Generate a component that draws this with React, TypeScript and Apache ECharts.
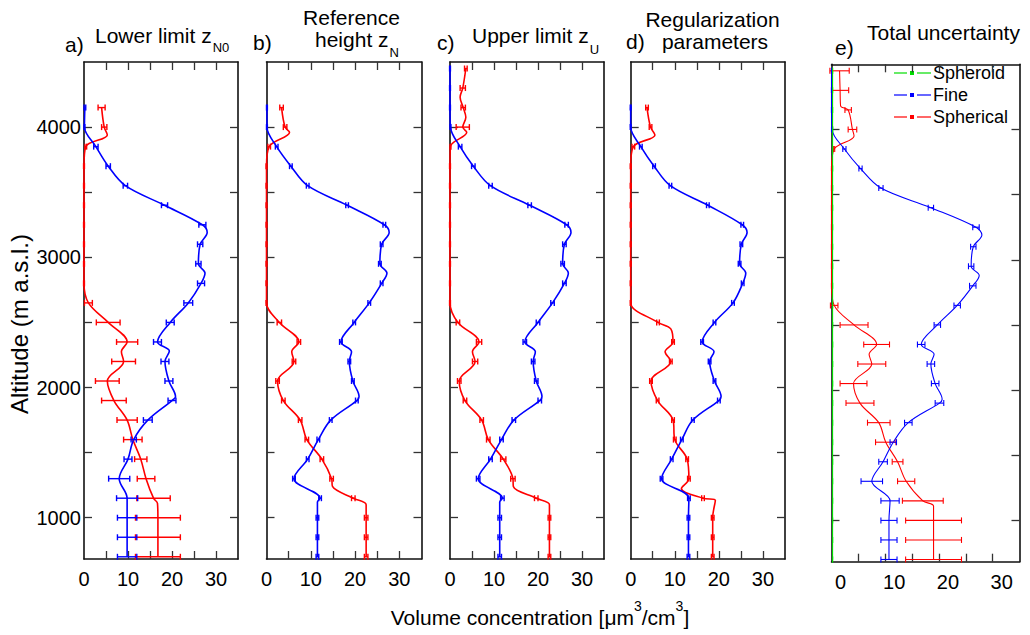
import React, { useEffect, useRef } from 'react';
import * as echarts from 'echarts';

// ---------- data (altitude levels bottom -> top, m a.s.l.) ----------
const ALT = [700, 850, 1000, 1150, 1300, 1450, 1600, 1750, 1900, 2050, 2200, 2350, 2500, 2650, 2800, 2950, 3100, 3250, 3400, 3550, 3700, 3850, 4000, 4150];
const ALT_HI = [...ALT, 4300, 4450];

const X_LABELS = [0, 10, 20, 30];
const X_TICKS = [5, 10, 15, 20, 25, 30];
const Y_LABELS = [1000, 2000, 3000, 4000];
const Y_TICKS = [1000, 1500, 2000, 2500, 3000, 3500, 4000];

// a) Lower limit
const A_FINE = [9.8, 9.8, 9.8, 9.8, 8.0, 10.0, 11.3, 14.5, 20.0, 19.3, 18.4, 16.7, 19.6, 23.7, 26.6, 26.0, 26.4, 26.9, 18.3, 9.4, 5.5, 2.7, 0.1, 0.2];
const A_FINE_ERR = [2.2, 2.2, 2.2, 2.4, 2.4, 0.9, 0.6, 1.0, 0.9, 0.9, 0.9, 0.9, 0.9, 1.0, 0.8, 0.6, 0.6, 0.8, 0.7, 0.5, 0.5, 0.5, 0.1, 0.2];
const A_SPH = [16.8, 16.8, 16.8, 15.8, 14.1, 12.9, 11.1, 9.8, 6.8, 5.3, 9.0, 9.8, 5.5, 1.0, 0, 0, 0, 0, 0, 0, 0, 0.4, 4.6, 4.0];
const A_SPH_ERR = [5.1, 5.1, 5.1, 3.8, 2.0, 1.4, 2.1, 2.3, 2.8, 2.7, 2.7, 2.4, 2.7, 0.9, 0.1, 0.1, 0.1, 0.1, 0.1, 0.1, 0.1, 0.2, 0.6, 0.8];
const A_FINE_EXTRA = [[1930, 20.8], [2280, 19.4], [2880, 27.5], [3190, 28.0]];
const A_SPH_EXTRA = [[1110, 16.7], [2275, 8.5], [3940, 5.3]];

// b) Reference height
const B_FINE = [11.5, 11.5, 11.5, 12.1, 6.2, 9.3, 11.7, 14.5, 20.4, 19.5, 18.7, 16.8, 19.8, 23.2, 26.0, 25.6, 26.0, 26.6, 18.2, 9.3, 5.5, 2.3, 0.1, 0.1];
const B_FINE_ERR = [0.3, 0.3, 0.3, 0.3, 0.3, 0.3, 0.3, 0.3, 0.3, 0.3, 0.3, 0.3, 0.3, 0.3, 0.3, 0.3, 0.3, 0.3, 0.3, 0.3, 0.3, 0.3, 0.1, 0.1];
const B_SPH = [22.5, 22.5, 22.5, 19.6, 14.7, 12.5, 9.1, 7.6, 3.8, 2.5, 6.2, 7.3, 2.9, 0, 0, 0, 0, 0, 0, 0, 0, 0.6, 4.2, 3.4];
const B_SPH_ERR = [0.4, 0.4, 0.4, 0.4, 0.4, 0.4, 0.4, 0.4, 0.4, 0.4, 0.4, 0.4, 0.5, 0.1, 0.1, 0.1, 0.1, 0.1, 0.1, 0.1, 0.1, 0.3, 0.4, 0.4];
const B_FINE_EXTRA = [[1120, 11.5], [1930, 20.9], [2275, 19.2], [2880, 27.2], [3190, 27.7]];
const B_SPH_EXTRA = [[1100, 22.5], [1240, 14.9], [2275, 5.7], [3960, 5.2]];

// c) Upper limit
const C_FINE = [11.3, 11.3, 11.3, 11.9, 6.4, 9.2, 11.7, 14.5, 20.4, 19.6, 18.9, 17.0, 20.0, 23.3, 26.0, 25.6, 26.0, 26.5, 18.1, 9.2, 5.3, 2.3, 0.1, 0, 0, 0];
const C_FINE_ERR = [0.4, 0.4, 0.4, 0.4, 0.4, 0.4, 0.4, 0.4, 0.4, 0.4, 0.4, 0.4, 0.4, 0.4, 0.4, 0.4, 0.4, 0.4, 0.4, 0.4, 0.4, 0.4, 0.1, 0.1, 0.1, 0.1];
const C_SPH = [22.6, 22.6, 22.6, 19.6, 14.3, 12.1, 8.7, 7.2, 3.4, 2.1, 5.7, 6.6, 1.8, 0, 0, 0, 0, 0, 0, 0, 0, 0.1, 2.9, 3.0, 2.9, 3.6];
const C_SPH_ERR = [0.3, 0.3, 0.3, 0.4, 0.5, 0.6, 0.4, 0.4, 0.4, 0.4, 0.6, 0.6, 0.4, 0.1, 0.1, 0.1, 0.1, 0.1, 0.1, 0.1, 0.1, 0.1, 1.5, 0.5, 0.6, 0.3];
const C_FINE_EXTRA = [[1120, 11.3], [1930, 20.9], [2275, 19.4], [2880, 26.9], [3190, 27.5]];
const C_SPH_EXTRA = [[1100, 22.6], [1240, 14.4], [2275, 5.1], [3960, 3.8], [4075, 3.6], [4230, 2.3]];

// d) Regularization parameters
const D_FINE = [13.1, 13.1, 13.1, 13.2, 7.0, 9.3, 11.6, 14.1, 20.0, 19.0, 17.9, 16.2, 19.0, 23.2, 25.4, 24.7, 25.1, 25.3, 17.5, 9.0, 5.3, 2.3, 0, 0];
const D_FINE_ERR = [0.3, 0.3, 0.3, 0.3, 0.3, 0.3, 0.3, 0.3, 0.3, 0.3, 0.3, 0.3, 0.3, 0.3, 0.3, 0.3, 0.3, 0.3, 0.3, 0.3, 0.3, 0.3, 0.1, 0.1];
const D_SPH = [18.6, 18.6, 18.6, 16.4, 13.2, 12.8, 10.0, 9.6, 6.1, 4.6, 9.1, 9.6, 6.2, 0, 0, 0, 0, 0, 0, 0, 0, 0.6, 4.5, 3.7];
const D_SPH_ERR = [0.3, 0.3, 0.3, 0.3, 0.3, 0.3, 0.3, 0.3, 0.3, 0.3, 0.3, 0.3, 0.3, 0.1, 0.1, 0.1, 0.1, 0.1, 0.1, 0.1, 0.1, 0.3, 0.3, 0.3];
const D_FINE_EXTRA = [[1930, 20.5], [2275, 18.9], [2880, 26.1], [3190, 26.4]];
const D_SPH_EXTRA = [[1135, 19.2], [1225, 11.5], [2275, 7.8], [2450, 9.1], [3940, 5.5]];

// e) Total uncertainty
const E_FINE = [10.7, 10.7, 10.7, 10.9, 7.5, 9.6, 11.5, 14.3, 20.1, 19.3, 18.5, 16.7, 19.7, 23.4, 26.3, 26.0, 26.4, 26.9, 18.5, 9.2, 5.4, 2.4, 0.1, 0, 0, 0];
const E_FINE_ERR = [1.5, 1.5, 1.5, 1.7, 2.0, 0.8, 0.6, 0.7, 0.8, 0.7, 0.7, 0.7, 0.6, 0.6, 0.6, 0.5, 0.5, 0.6, 0.5, 0.4, 0.3, 0.3, 0.1, 0, 0, 0];
const E_SPH = [19.0, 19.0, 19.0, 17.0, 13.9, 12.3, 10.1, 8.8, 5.3, 4.1, 7.5, 8.4, 4.2, 0.5, 0, 0, 0, 0, 0, 0, 0, 0.5, 3.9, 3.1, 1.6, 1.5];
const E_SPH_ERR = [5.2, 5.2, 5.2, 3.8, 1.6, 1.0, 1.9, 2.1, 2.6, 2.5, 2.6, 2.4, 2.6, 0.7, 0, 0, 0, 0, 0, 0, 0, 0.1, 0.8, 0.6, 1.6, 1.8];
const E_SPHEROID = [0.2, 0.2, 0.2, 0.2, 0.2, 0.2, 0.2, 0.2, 0.2, 0.2, 0.2, 0.2, 0.2, 0.2, 0.2, 0.2, 0.2, 0.2, 0.2, 0.2, 0.2, 0.2, 0.2, 0.2, 0.2, 0.2];
const E_SPHEROID_ERR = [0, 0, 0, 0, 0, 0, 0, 0, 0, 0, 0, 0, 0, 0, 0, 0, 0, 0, 0, 0, 0, 0, 0, 0, 0, 0];
const E_FINE_EXTRA = [[1930, 20.6], [2275, 19.1], [2880, 27.5], [3190, 28.0]];
const E_SPH_EXTRA = [[1110, 19.0], [2275, 7.0], [3950, 4.2], [4180, 1.7]];

const LEGEND = ['Spheroid', 'Fine', 'Spherical'];

// ---------- styling ----------
const FONT = "'Liberation Sans', Arial, sans-serif";
const BLUE = '#0000ff';
const RED = '#ff0000';
const GREEN = '#00dd00';
const Y_MIN = 683;
const Y_MAX = 4500;

const GRIDS = [
  { left: 84, top: 62, width: 154, height: 497 },
  { left: 266.5, top: 62, width: 155, height: 497 },
  { left: 450, top: 62, width: 154, height: 497 },
  { left: 630.7, top: 62, width: 154.3, height: 497 },
  { left: 831.5, top: 64.3, width: 188, height: 497.4 },
];

const PANELS = [
  { alt: ALT, fine: A_FINE, fineErr: A_FINE_ERR, fineExtra: A_FINE_EXTRA, sph: A_SPH, sphErr: A_SPH_ERR, sphExtra: A_SPH_EXTRA },
  { alt: ALT, fine: B_FINE, fineErr: B_FINE_ERR, fineExtra: B_FINE_EXTRA, sph: B_SPH, sphErr: B_SPH_ERR, sphExtra: B_SPH_EXTRA },
  { alt: ALT_HI, fine: C_FINE, fineErr: C_FINE_ERR, fineExtra: C_FINE_EXTRA, sph: C_SPH, sphErr: C_SPH_ERR, sphExtra: C_SPH_EXTRA },
  { alt: ALT, fine: D_FINE, fineErr: D_FINE_ERR, fineExtra: D_FINE_EXTRA, sph: D_SPH, sphErr: D_SPH_ERR, sphExtra: D_SPH_EXTRA },
  { alt: ALT_HI, fine: E_FINE, fineErr: E_FINE_ERR, fineExtra: E_FINE_EXTRA, sph: E_SPH, sphErr: E_SPH_ERR, sphExtra: E_SPH_EXTRA },
];

function linePoints(alt: number[], vals: number[], extra: number[][]) {
  const pts = alt.map((a, i) => [vals[i], a]);
  extra.forEach(([a, v]) => pts.push([v, a]));
  pts.sort((p, q) => p[1] - q[1]);
  return pts;
}

function errRender(color: string, lw: number) {
  return (params: any, api: any) => {
    const x = api.value(0);
    const y = api.value(1);
    const e = api.value(2);
    const l = api.coord([x - e, y]);
    const r = api.coord([x + e, y]);
    const h = 3;
    const style = { stroke: color, lineWidth: lw, fill: 'none' };
    return {
      type: 'group',
      children: [
        { type: 'line', shape: { x1: l[0], y1: l[1], x2: r[0], y2: r[1] }, style },
        { type: 'line', shape: { x1: l[0], y1: l[1] - h, x2: l[0], y2: l[1] + h }, style },
        { type: 'line', shape: { x1: r[0], y1: r[1] - h, x2: r[0], y2: r[1] + h }, style },
      ],
    };
  };
}

let measureCtx: CanvasRenderingContext2D | null = null;
function measure(text: string, size: number) {
  if (!measureCtx) measureCtx = document.createElement('canvas').getContext('2d');
  if (!measureCtx) return text.length * size * 0.55;
  measureCtx.font = `${size}px ${FONT}`;
  return measureCtx.measureText(text).width;
}

function txt(text: string, x: number, y: number, size: number, align = 'left', extra: any = {}) {
  return {
    type: 'text',
    x,
    y,
    silent: true,
    ...extra,
    style: { text, font: `${size}px ${FONT}`, fill: '#000', textAlign: align, textVerticalAlign: 'middle' },
  };
}

function buildOption() {
  const xAxis: any[] = [];
  const yAxis: any[] = [];
  const series: any[] = [];
  const axisLine = { show: true, onZero: false, lineStyle: { color: '#111', width: 1.6 } };
  const tickStyle = { color: '#333', width: 1.3 };

  GRIDS.forEach((g, i) => {
    const isE = i === 4;
    xAxis.push({
      type: 'value', gridIndex: i, min: 0, max: 35, position: 'bottom',
      axisLine, splitLine: { show: false },
      axisTick: { show: true, inside: true, length: 8, customValues: X_TICKS, lineStyle: tickStyle },
      axisLabel: {
        show: true, customValues: X_LABELS, fontSize: 20, fontFamily: FONT, color: '#000', margin: 10,
        padding: isE ? [0, 0, 0, 18] : 0, formatter: (v: number) => String(v),
      },
    });
    xAxis.push({
      type: 'value', gridIndex: i, min: 0, max: 35, position: 'top',
      axisLine, splitLine: { show: false },
      axisTick: { show: true, inside: true, length: 8, customValues: X_TICKS, lineStyle: tickStyle },
      axisLabel: { show: false },
    });
    yAxis.push({
      type: 'value', gridIndex: i, min: Y_MIN, max: Y_MAX, position: 'left',
      axisLine, splitLine: { show: false },
      axisTick: { show: true, inside: true, length: 8, customValues: Y_TICKS, lineStyle: tickStyle },
      axisLabel: {
        show: i === 0, customValues: Y_LABELS, fontSize: 20, fontFamily: FONT, color: '#000', margin: 3,
        formatter: (v: number) => String(v),
      },
    });
    yAxis.push({
      type: 'value', gridIndex: i, min: Y_MIN, max: Y_MAX, position: 'right',
      axisLine, splitLine: { show: false },
      axisTick: { show: true, inside: true, length: 8, customValues: Y_TICKS, lineStyle: tickStyle },
      axisLabel: { show: false },
    });

    const p = PANELS[i];
    const lw = isE ? 1.1 : 1.6;
    const ew = isE ? 1.1 : 1.4;
    const xi = 2 * i;
    const yi = 2 * i;
    const addProfile = (vals: number[], errs: number[], extra: number[][], color: string, name: string) => {
      series.push({
        type: 'line', name, xAxisIndex: xi, yAxisIndex: yi, data: linePoints(p.alt, vals, extra),
        showSymbol: false, smooth: 0.35, lineStyle: { color, width: lw }, itemStyle: { color }, silent: true, z: 2,
      });
      series.push({
        type: 'custom', name: name + ' err', xAxisIndex: xi, yAxisIndex: yi, clip: false,
        renderItem: errRender(color, ew), encode: { x: 0, y: 1 },
        data: p.alt.map((a, j) => [vals[j], a, errs[j]]), silent: true, z: 3,
      });
    };
    addProfile(p.sph, p.sphErr, p.sphExtra, RED, 'Spherical');
    addProfile(p.fine, p.fineErr, p.fineExtra, BLUE, 'Fine');
    if (isE) addProfile(E_SPHEROID, E_SPHEROID_ERR, [], GREEN, 'Spheroid');
  });

  // ---------- titles & annotations ----------
  const graphic: any[] = [];
  const T = 21;
  const SUB = 13;
  // a
  graphic.push(txt('a)', 65, 44.7, T));
  graphic.push(txt('Lower limit z', 95, 35.2, T));
  graphic.push(txt('N0', 95 + measure('Lower limit z', T) + 1, 47, SUB));
  // b
  graphic.push(txt('b)', 253, 42, T));
  graphic.push(txt('Reference', 351.5, 17.7, T, 'center'));
  graphic.push(txt('height z', 315, 39.7, T));
  graphic.push(txt('N', 315 + measure('height z', T) + 1, 52, SUB));
  // c
  graphic.push(txt('c)', 437, 42.7, T));
  graphic.push(txt('Upper limit z', 472, 35.7, T));
  graphic.push(txt('U', 472 + measure('Upper limit z', T) + 1, 49, SUB));
  // d
  graphic.push(txt('d)', 626, 41.5, T));
  graphic.push(txt('Regularization', 712.5, 19.7, T, 'center'));
  graphic.push(txt('parameters', 715, 41.5, T, 'center'));
  // e
  graphic.push(txt('e)', 835, 47.7, T));
  graphic.push(txt('Total uncertainty', 867, 32.7, T));

  // legend (panel e)
  const legColors = [GREEN, BLUE, RED];
  LEGEND.forEach((name, k) => {
    const y = 73 + k * 22;
    const c = legColors[k];
    graphic.push({ type: 'line', silent: true, shape: { x1: 894, y1: y, x2: 907, y2: y }, style: { stroke: c, lineWidth: 1.2 } });
    graphic.push({ type: 'rect', silent: true, shape: { x: 910, y: y - 2, width: 4, height: 4 }, style: { fill: c } });
    graphic.push({ type: 'line', silent: true, shape: { x1: 917, y1: y, x2: 931, y2: y }, style: { stroke: c, lineWidth: 1.2 } });
    graphic.push(txt(name, 933, y, 18));
  });

  // y axis name
  graphic.push(txt('Altitude (m a.s.l.)', 19, 324, 24, 'center', { rotation: Math.PI / 2 }));

  // x axis name with superscripts
  const parts = [
    { t: 'Volume concentration [\u03bcm', s: 21, dy: 0, gap: 0 },
    { t: '3', s: 14, dy: -11.5, gap: 0 },
    { t: '/cm', s: 21, dy: 0, gap: 0 },
    { t: '3', s: 14, dy: -11.5, gap: 0 },
    { t: ']', s: 21, dy: 0, gap: 0 },
  ];
  const total = parts.reduce((acc, q) => acc + measure(q.t, q.s), 0);
  let cx = 540 - total / 2;
  parts.forEach((q) => {
    graphic.push(txt(q.t, cx, 617.7 + q.dy, q.s));
    cx += measure(q.t, q.s);
  });

  return {
    animation: false,
    backgroundColor: '#ffffff',
    grid: GRIDS.map((g) => ({ ...g, containLabel: false })),
    xAxis,
    yAxis,
    series,
    graphic,
  };
}

export default function App() {
  const ref = useRef<HTMLDivElement>(null);
  useEffect(() => {
    if (!ref.current) return;
    const chart = echarts.init(ref.current, undefined, { renderer: 'svg' });
    chart.setOption(buildOption() as any);
    return () => chart.dispose();
  }, []);
  return <div ref={ref} style={{ position: 'absolute', left: 0, top: 0, width: 1030, height: 635 }} />;
}
